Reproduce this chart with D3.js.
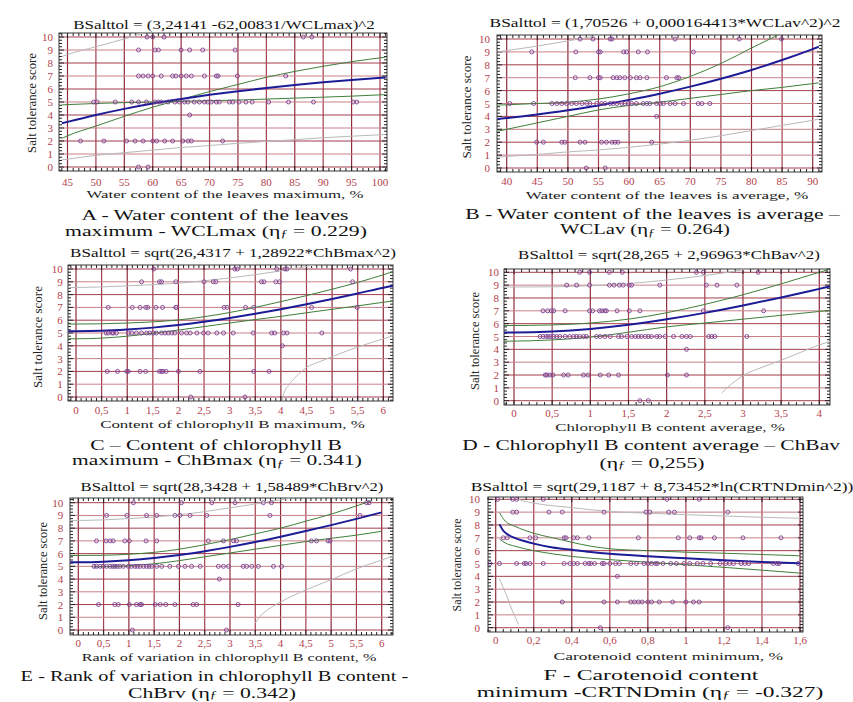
<!DOCTYPE html>
<html>
<head>
<meta charset="utf-8">
<script src="https://cdn.jsdelivr.net/npm/d3@7"></script>
<style>
body { margin: 0; background: #fff; }
</style>
</head>
<body>
<div id="chart"></div>
<script>
// ---- values ----
const yTicks = [0, 1, 2, 3, 4, 5, 6, 7, 8, 9, 10];
const ticksA = [45, 50, 55, 60, 65, 70, 75, 80, 85, 90, 95, 100];
const ticksB = [40, 45, 50, 55, 60, 65, 70, 75, 80, 85, 90];
const ticksC = [0, 0.5, 1, 1.5, 2, 2.5, 3, 3.5, 4, 4.5, 5, 5.5, 6];
const ticksD = [0, 0.5, 1, 1.5, 2, 2.5, 3, 3.5, 4];
const ticksE = [0, 0.5, 1, 1.5, 2, 2.5, 3, 3.5, 4, 4.5, 5, 5.5, 6];
const ticksF = [0, 0.2, 0.4, 0.6, 0.8, 1, 1.2, 1.4, 1.6];

const formulas = [
    'BSalttol = (3,24141 -62,00831/WCLmax)^2',
    'BSalttol = (1,70526 + 0,000164413*WCLav^2)^2',
    'BSalttol = sqrt(26,4317 + 1,28922*ChBmax^2)',
    'BSalttol = sqrt(28,265 + 2,96963*ChBav^2)',
    'BSalttol = sqrt(28,3428 + 1,58489*ChBrv^2)',
    'BSalttol = sqrt(29,1187 + 8,73452*ln(CRTNDmin^2))'
];
const xTitles = [
    'Water content of the leaves maximum, %',
    'Water content of the leaves is average, %',
    'Content of chlorophyll B maximum, %',
    'Chlorophyll B content average, %',
    'Rank of variation in chlorophyll B content, %',
    'Carotenoid content minimum, %'
];
const yTitle = 'Salt tolerance score';
// second line: [before, subscript, after]
const captions = [
    ['A - Water content of the leaves', ['maximum - WCLmax (η', 'ƒ', ' = 0.229)']],
    ['B - Water content of the leaves is average –', ['WCLav (η', 'ƒ', ' = 0.264)']],
    ['C – Content of chlorophyll B', ['maximum - ChBmax (η', 'ƒ', ' = 0.341)']],
    ['D - Chlorophyll B content average – ChBav', ['(η', 'ƒ', ' = 0,255)']],
    ['E - Rank of variation in chlorophyll B content -', ['ChBrv (η', 'ƒ', ' = 0.342)']],
    ['F - Carotenoid content', ['minimum -CRTNDmin (η', 'ƒ', ' = -0.327)']]
];

// points: [score, [x values]]
const ptsA = [
    [10, [59, 60, 62, 86.5, 88]],
    [9, [57.5, 60.4, 61, 65, 66.5, 68.8, 74.5]],
    [7, [57.5, 58.3, 59.2, 60, 61.5, 63.5, 64.1, 65, 65.9, 66.8, 69.1, 71.2, 71.5, 74.9, 83.4]],
    [5, [49.6, 50.2, 53.4, 56.3, 57.5, 58.9, 60.4, 61, 61.5, 62.7, 63.9, 64.7, 65.6, 66.2, 67.3, 68.2, 69.1, 69.7, 70.3, 71.2, 71.7, 73.5, 74.1, 75.2, 76.4, 77.5, 80.4, 83.9, 88.3, 95.3, 95.9]],
    [4, [66.5]],
    [2, [47.3, 51.4, 55.4, 56.9, 58.3, 60, 60.7, 62.1, 63.5, 65.3, 66.2, 66.8, 72.3]],
    [0, [57.5, 59.2]]
];
const ptsB = [
    [10, [52, 54.1, 56.9, 57.2, 67.5, 78, 84.9]],
    [9, [44.1, 51.3, 55, 55.3, 59.1, 59.6, 61.5, 63, 70.5]],
    [7, [51.2, 53.6, 55, 55.3, 57.4, 58, 58.5, 59.3, 60.2, 61.2, 61.8, 62.9, 66.1, 67.8, 68.1]],
    [5, [40.5, 44.4, 47.4, 48.2, 49, 49.8, 50.6, 51.4, 52.3, 53.1, 53.6, 54.7, 55.5, 56.1, 56.9, 57.4, 58, 58.8, 59.3, 59.9, 60.4, 61.2, 62.3, 62.9, 63.4, 64.5, 65.1, 65.6, 66.7, 67.5, 68.9, 71.3, 71.9, 73.2]],
    [4, [64.5]],
    [2, [44.9, 46, 49, 49.5, 52, 52.8, 55.5, 56.3, 57.2, 57.7, 58.2, 63.7]],
    [0, [53, 56.1]]
];
const ptsC = [
    [10, [1.52, 3.1, 3.15, 3.92, 4.08, 4.12, 5.36]],
    [9, [1.28, 1.63, 1.67, 1.95, 2.5, 2.68, 2.73, 3.62, 3.67, 3.9, 3.97, 5.4]],
    [7, [0.63, 1.1, 1.25, 1.36, 1.4, 1.56, 1.69, 1.95, 1.96, 2.89, 2.95, 3.31, 3.47, 4.6, 5.49]],
    [5, [0.59, 0.63, 0.7, 0.73, 0.79, 1.02, 1.09, 1.18, 1.28, 1.38, 1.44, 1.51, 1.57, 1.67, 1.74, 1.8, 1.87, 1.93, 2.06, 2.16, 2.23, 2.36, 2.49, 2.58, 2.75, 2.88, 3.07, 3.46, 3.82, 3.88, 4.05, 4.12, 4.8]],
    [4, [4.03]],
    [2, [0.61, 0.81, 0.99, 1.02, 1.25, 1.36, 1.63, 1.67, 1.7, 1.76, 2.0, 2.42, 3.47, 3.77]],
    [0, [2.24, 3.3]]
];
const ptsD = [
    [10, [0.86, 0.99, 1.25, 1.42, 2.39, 2.48, 3.2]],
    [9, [0.69, 0.82, 0.99, 1.25, 1.31, 1.38, 1.43, 1.51, 1.54, 1.91, 2.52, 2.66, 2.92]],
    [7, [0.38, 0.44, 0.49, 0.52, 0.67, 0.99, 1.03, 1.12, 1.15, 1.19, 1.21, 1.35, 1.51, 1.65, 2.48, 3.27]],
    [5, [0.34, 0.38, 0.42, 0.45, 0.48, 0.52, 0.56, 0.6, 0.67, 0.73, 0.78, 0.82, 0.86, 0.91, 0.95, 1.08, 1.13, 1.19, 1.26, 1.37, 1.41, 1.48, 1.54, 1.59, 1.63, 1.67, 1.72, 1.76, 1.8, 1.87, 1.91, 1.98, 2.09, 2.2, 2.26, 2.31, 2.55, 2.59, 2.63, 3.05]],
    [4, [2.26]],
    [2, [0.41, 0.43, 0.47, 0.51, 0.65, 0.71, 0.91, 0.97, 1.13, 1.24, 1.37, 2.01, 2.26]],
    [0, [1.65, 1.76]]
];
const ptsE = [
    [10, [1.09, 2.04, 2.64, 3.1, 3.66, 3.82, 5.7, 5.75]],
    [9, [0.56, 0.96, 1.35, 1.55, 1.91, 2.01, 2.21, 2.54, 3.79, 5.57]],
    [7, [0.36, 0.55, 0.63, 0.69, 0.92, 1.01, 1.34, 1.55, 2.57, 2.87, 3.07, 3.13, 4.61, 4.71, 4.94, 4.98]],
    [5, [0.31, 0.36, 0.43, 0.49, 0.56, 0.63, 0.68, 0.72, 0.77, 0.82, 0.89, 0.99, 1.05, 1.12, 1.17, 1.22, 1.29, 1.35, 1.4, 1.45, 1.55, 1.65, 1.81, 1.98, 2.11, 2.24, 2.41, 2.77, 2.87, 2.97, 3.26, 3.33, 3.43, 3.56, 3.86, 4.02]],
    [4, [2.79]],
    [2, [0.4, 0.72, 0.79, 1.01, 1.15, 1.22, 1.25, 1.52, 1.62, 1.73, 1.91, 2.27, 2.34, 3.16]],
    [0, [1.07, 2.93]]
];
const ptsF = [
    [10, [0.01, 0.09, 0.11, 0.25, 0.9, 1.07]],
    [9, [0.09, 0.11, 0.28, 0.35, 0.57, 0.79, 0.81, 0.91, 0.94, 1.22]],
    [7, [0.04, 0.06, 0.18, 0.21, 0.36, 0.37, 0.41, 0.43, 0.49, 0.75, 0.96, 1.02, 1.07, 1.08, 1.15, 1.3, 1.5]],
    [5, [-0.03, 0.02, 0.11, 0.15, 0.16, 0.18, 0.25, 0.36, 0.39, 0.41, 0.43, 0.47, 0.49, 0.5, 0.52, 0.56, 0.57, 0.6, 0.63, 0.65, 0.71, 0.74, 0.78, 0.8, 0.82, 0.84, 0.85, 0.88, 0.92, 0.95, 0.99, 1.02, 1.06, 1.09, 1.13, 1.18, 1.21, 1.23, 1.25, 1.29, 1.31, 1.33, 1.46, 1.48, 1.49, 1.59]],
    [4, [0.64]],
    [2, [0.35, 0.57, 0.64, 0.71, 0.73, 0.75, 0.77, 0.8, 0.82, 0.86, 0.93, 1.0, 1.04, 1.07]],
    [0, [0.55, 1.22]]
];

// fitted curve (blue), confidence limits (green), prediction limits (grey)
const fitA = [[44, 3.36], [45, 3.47], [50, 4.0], [55, 4.47], [60, 4.88], [65, 5.23], [70, 5.55], [75, 5.83], [80, 6.08], [85, 6.31], [90, 6.52], [95, 6.7], [101, 6.89]];
const upA = [[44, 2.2], [45, 2.4], [50, 3.15], [55, 3.9], [60, 4.6], [65, 5.2], [70, 5.8], [75, 6.35], [80, 6.9], [85, 7.35], [90, 7.75], [95, 8.1], [101, 8.45]];
const loA = [[44, 4.78], [45, 4.8], [55, 4.95], [60, 5.0], [65, 5.05], [75, 5.15], [85, 5.3], [95, 5.45], [101, 5.57]];
const predUpA = [[44, 8.5], [45, 8.65], [50, 9.25], [55, 9.85], [57, 10.1], [58.5, 10.35]];
const predLoA = [[44, 0.55], [45, 0.6], [50, 0.9], [55, 1.1], [60, 1.3], [65, 1.5], [70, 1.65], [75, 1.82], [80, 1.97], [85, 2.1], [90, 2.25], [95, 2.37], [101, 2.5]];

const fitB = [[38.5, 3.8], [40, 3.87], [45, 4.15], [50, 4.48], [55, 4.85], [60, 5.28], [65, 5.76], [70, 6.31], [75, 6.92], [80, 7.6], [85, 8.37], [90, 9.22], [91, 9.4]];
const upB = [[38.5, 4.88], [40, 4.9], [45, 5.0], [50, 5.1], [55, 5.35], [60, 5.75], [65, 6.3], [70, 7.1], [75, 8.1], [80, 9.3], [84.5, 10.35]];
const loB = [[38.5, 2.85], [40, 3.0], [45, 3.5], [50, 4.0], [55, 4.5], [60, 4.85], [65, 5.1], [70, 5.4], [75, 5.7], [80, 6.0], [85, 6.25], [91, 6.6]];
const predUpB = [[38.5, 9.0], [40, 9.1], [45, 9.45], [50, 9.85], [53, 10.1], [55.5, 10.35]];
const predLoB = [[38.5, 0.85], [40, 0.9], [45, 1.05], [50, 1.25], [55, 1.4], [60, 1.6], [65, 1.85], [70, 2.15], [75, 2.5], [80, 2.9], [85, 3.3], [90, 3.7], [91, 3.78]];

const fitC = [[-0.15, 5.14], [0, 5.14], [0.5, 5.17], [1, 5.27], [1.5, 5.42], [2, 5.62], [2.5, 5.87], [3, 6.17], [3.5, 6.5], [4, 6.86], [4.5, 7.25], [5, 7.66], [5.5, 8.09], [6, 8.54], [6.19, 8.7]];
const upC = [[-0.15, 5.7], [0, 5.7], [0.5, 5.72], [1, 5.78], [1.5, 5.87], [2, 6.02], [2.5, 6.27], [3, 6.6], [3.5, 7.0], [4, 7.45], [4.5, 7.92], [5, 8.42], [5.5, 8.95], [6, 9.55], [6.19, 9.8]];
const loC = [[-0.15, 4.55], [0, 4.55], [0.5, 4.6], [1, 4.75], [1.5, 4.98], [2, 5.23], [2.5, 5.5], [3, 5.78], [3.5, 6.05], [4, 6.3], [4.5, 6.58], [5, 6.85], [5.5, 7.12], [6, 7.4], [6.19, 7.5]];
const predUpC = [[-0.15, 8.55], [0.5, 8.6], [1, 8.68], [1.5, 8.78], [2, 8.9], [2.5, 9.08], [3, 9.3], [3.5, 9.56], [4, 9.85], [4.3, 10.05], [4.7, 10.35]];
const predLoC = [[4.03, -0.3], [4.06, 0.3], [4.15, 0.9], [4.3, 1.6], [4.5, 2.3], [4.75, 2.75], [5, 3.15], [5.5, 3.9], [6, 4.55], [6.19, 4.78]];

const fitD = [[-0.13, 5.32], [0, 5.32], [0.5, 5.39], [1, 5.59], [1.5, 5.91], [2, 6.34], [2.5, 6.84], [3, 7.42], [3.5, 8.04], [4, 8.71], [4.14, 8.9]];
const upD = [[-0.13, 5.85], [0.5, 5.9], [1, 6.05], [1.5, 6.35], [2, 6.85], [2.5, 7.5], [3, 8.25], [3.5, 9.1], [4, 10.0], [4.14, 10.25]];
const loD = [[-0.13, 4.63], [0.5, 4.73], [1, 4.95], [1.5, 5.33], [2, 5.75], [2.5, 6.05], [3, 6.35], [3.5, 6.65], [4, 6.95], [4.14, 7.03]];
const predUpD = [[-0.13, 8.85], [0.5, 8.87], [1, 8.95], [1.5, 9.12], [2, 9.4], [2.5, 9.75], [2.8, 10.0], [3.1, 10.3]];
const predLoD = [[2.72, 0.6], [2.85, 1.3], [3, 1.95], [3.25, 2.6], [3.5, 3.15], [3.75, 3.75], [4, 4.35], [4.14, 4.6]];

const fitE = [[-0.16, 5.32], [0, 5.32], [0.5, 5.36], [1, 5.47], [1.5, 5.65], [2, 5.89], [2.5, 6.19], [3, 6.53], [3.5, 6.91], [4, 7.33], [4.5, 7.77], [5, 8.24], [5.5, 8.73], [6, 9.24]];
const upE = [[-0.16, 5.85], [0.5, 5.87], [1, 5.95], [1.5, 6.1], [2, 6.35], [2.5, 6.7], [3, 7.1], [3.5, 7.55], [4, 8.0], [4.5, 8.55], [5, 9.1], [5.5, 9.75], [5.8, 10.15]];
const loE = [[0.3, 4.95], [0.5, 4.97], [1, 5.05], [1.5, 5.2], [2, 5.45], [2.5, 5.75], [3, 6.05], [3.5, 6.35], [4, 6.65], [4.5, 6.95], [5, 7.2], [5.5, 7.45], [6, 7.75]];
const predUpE = [[-0.16, 8.6], [0.5, 8.65], [1, 8.75], [1.5, 8.88], [2, 9.05], [2.5, 9.3], [3, 9.6], [3.5, 9.9], [3.8, 10.1], [4.2, 10.35]];
const predLoE = [[3.5, 0.55], [3.6, 1.1], [3.75, 1.6], [4, 2.2], [4.5, 3.15], [5, 3.95], [5.5, 4.8], [6, 5.5], [6.23, 5.8]];

const fitF = [[0.02, 8.05], [0.04, 7.55], [0.07, 7.2], [0.1, 7.0], [0.15, 6.75], [0.2, 6.55], [0.3, 6.25], [0.4, 6.07], [0.5, 5.9], [0.6, 5.76], [0.8, 5.56], [1.0, 5.4], [1.2, 5.25], [1.4, 5.12], [1.6, 5.02]];
const upF = [[0.02, 8.95], [0.05, 8.3], [0.1, 7.9], [0.15, 7.6], [0.2, 7.35], [0.3, 7.0], [0.4, 6.65], [0.5, 6.35], [0.6, 6.15], [0.8, 6.0], [1.0, 5.88], [1.2, 5.8], [1.4, 5.7], [1.6, 5.6]];
const loF = [[0.02, 6.9], [0.05, 6.6], [0.1, 6.35], [0.2, 6.0], [0.3, 5.75], [0.4, 5.55], [0.6, 5.3], [0.8, 5.1], [1.0, 4.9], [1.2, 4.7], [1.4, 4.48], [1.6, 4.25]];
const predUpF = [[0.08, 10.3], [0.12, 10.0], [0.2, 9.7], [0.3, 9.5], [0.4, 9.35], [0.6, 9.05], [0.8, 8.92], [1.0, 8.8], [1.2, 8.7], [1.4, 8.6], [1.6, 8.52]];
const predLoF = [[0.02, 3.8], [0.04, 3.1], [0.06, 2.4], [0.08, 1.6], [0.1, 0.9], [0.12, 0.25]];

// ---- layout (pixels) ----
const layout = [
    {frame: [59, 33, 387, 171], xr: [67.5, 380], yr: [167, 37], xLab: 181.5, yLab: 53, f: [224, 25, 302], t: [225, 194.5, 277], yt: [32, 103, 100], cap: [[215, 214.5, 267], [216, 230.5, 302]]},
    {frame: [497, 35, 822, 172], xr: [506.7, 812.7], yr: [168, 39], xLab: 181, yLab: 490, f: [665, 23, 351], t: [667, 195, 283], yt: [467, 107, 103], cap: [[652.5, 213.5, 375], [645, 229.5, 170]]},
    {frame: [68, 265, 393, 401], xr: [76, 383.3], yr: [397, 269], xLab: 410, yLab: 62.7, f: [233, 253, 326], t: [232.5, 424.3, 265], yt: [38, 337, 102], cap: [[216, 444.5, 252], [217, 460.5, 290]]},
    {frame: [504, 269, 830, 405], xr: [514, 819.3], yr: [400.7, 272.3], xLab: 413, yLab: 499, f: [669, 255, 302], t: [670, 427.3, 230], yt: [475, 341, 98], cap: [[651, 445.5, 378], [652, 462, 105]]},
    {frame: [70, 498, 393, 635], xr: [78.3, 381.7], yr: [630, 502.7], xLab: 643, yLab: 63.3, f: [232, 487, 303], t: [229, 657.7, 295], yt: [43, 571, 98], cap: [[214.5, 676, 388], [212, 692, 168]]},
    {frame: [488, 497, 803, 632], xr: [495.7, 800], yr: [627.7, 499.3], xLab: 640, yLab: 480, f: [662, 487, 383], t: [668.3, 656.7, 230], yt: [457, 565, 93], cap: [[651, 675, 215], [650, 691.5, 347]]}
];

const panels = [
    {ticks: ticksA, pts: ptsA, fit: fitA, up: upA, lo: loA, pUp: predUpA, pLo: predLoA},
    {ticks: ticksB, pts: ptsB, fit: fitB, up: upB, lo: loB, pUp: predUpB, pLo: predLoB},
    {ticks: ticksC, pts: ptsC, fit: fitC, up: upC, lo: loC, pUp: predUpC, pLo: predLoC},
    {ticks: ticksD, pts: ptsD, fit: fitD, up: upD, lo: loD, pUp: predUpD, pLo: predLoD},
    {ticks: ticksE, pts: ptsE, fit: fitE, up: upE, lo: loE, pUp: predUpE, pLo: predLoE},
    {ticks: ticksF, pts: ptsF, fit: fitF, up: upF, lo: loF, pUp: predUpF, pLo: predLoF}
];

const colors = {
    grid: '#a33f4e',
    gridLight: '#c98089',
    frame: '#3a3a3a',
    tick: '#b3414c',
    point: '#7a3f93',
    fit: '#1c1c96',
    conf: '#3f7f3a',
    pred: '#b9b9b9'
};
const serif = '"Liberation Serif", "DejaVu Serif", "Times New Roman", serif';

let svg = d3.select('#chart')
    .append('svg')
        .attr('width', 853)
        .attr('height', 702)
        .style('font-family', serif)
        .style('background', '#fff');

panels.forEach((p, i) => drawPanel(p, layout[i], i));

// scale a centred text horizontally so it spans the measured width
function stretch(t, cx, w){
    let len = t.node().getComputedTextLength();
    let k = w / len;
    t.attr('transform', `translate(${cx},0) scale(${k},1) translate(${-cx},0)`);
}

function fmt(v){
    return String(v).replace('.', ',');
}

function label(g, x, y, size, fill){
    return g.append('text')
        .attr('x', x).attr('y', y)
        .attr('text-anchor', 'middle')
        .attr('dominant-baseline', 'central')
        .style('font-size', size + 'px')
        .style('fill', fill);
}

function drawPanel(p, L, i){
    let [l, t, r, b] = L.frame;
    let ticks = p.ticks;
    let x = d3.scaleLinear().domain([ticks[0], ticks[ticks.length - 1]]).range(L.xr);
    let y = d3.scaleLinear().domain([0, 10]).range(L.yr);
    let g = svg.append('g');

    g.append('clipPath')
        .attr('id', 'clip' + i)
        .append('rect')
            .attr('x', l).attr('y', t)
            .attr('width', r - l).attr('height', b - t);

    //Grid
    g.selectAll('.vgrid')
        .data(ticks)
        .enter()
        .append('line')
            .attr('x1', d => x(d)).attr('x2', d => x(d))
            .attr('y1', t).attr('y2', b)
            .style('stroke', (d, j) => j % 2 ? colors.grid : '#8e2c3b')
            .style('stroke-width', 1.2);

    g.selectAll('.hgrid')
        .data(yTicks)
        .enter()
        .append('line')
            .attr('x1', l).attr('x2', r)
            .attr('y1', d => y(d)).attr('y2', d => y(d))
            .style('stroke', (d, j) => j % 2 ? colors.gridLight : colors.grid)
            .style('stroke-width', 1);

    //Frame and inner ticks
    g.append('rect')
        .attr('x', l).attr('y', t)
        .attr('width', r - l).attr('height', b - t)
        .style('fill', 'none')
        .style('stroke', colors.frame)
        .style('stroke-width', 1);

    let ySub = d3.range(-1, 42).map(k => k / 4).filter(v => y(v) > t && y(v) < b);
    let step = (ticks[1] - ticks[0]) / 5;
    let x0 = x.invert(l), x1 = x.invert(r);
    let xSub = d3.range(Math.ceil(x0 / step), Math.floor(x1 / step) + 1).map(k => k * step);
    let isMajorY = v => Math.abs(v - Math.round(v)) < 1e-6;
    let isMajorX = v => ticks.some(tk => Math.abs(tk - v) < step / 10);

    let tickPath = '';
    ySub.forEach(v => {
        let len = isMajorY(v) ? 5 : 3;
        tickPath += `M${l},${y(v)}h${len}M${r},${y(v)}h${-len}`;
    });
    xSub.forEach(v => {
        let len = isMajorX(v) ? 5 : 3;
        tickPath += `M${x(v)},${b}v${-len}M${x(v)},${t}v${len}`;
    });
    g.append('path')
        .attr('d', tickPath)
        .style('stroke', '#222')
        .style('stroke-width', 1);

    //Curves
    let line = d3.line()
        .x(d => x(d[0]))
        .y(d => y(d[1]))
        .curve(d3.curveMonotoneX);
    let curves = g.append('g').attr('clip-path', `url(#clip${i})`);
    [[p.pUp, colors.pred, 1], [p.pLo, colors.pred, 1], [p.up, colors.conf, 1], [p.lo, colors.conf, 1], [p.fit, colors.fit, 2]]
        .forEach(c => {
            curves.append('path')
                .datum(c[0])
                .attr('d', line)
                .style('fill', 'none')
                .style('stroke', c[1])
                .style('stroke-width', c[2]);
        });

    //Points
    let pts = [];
    p.pts.forEach(row => row[1].forEach(v => pts.push([v, row[0]])));
    g.selectAll('.pt')
        .data(pts)
        .enter()
        .append('circle')
            .attr('cx', d => x(d[0]))
            .attr('cy', d => y(d[1]))
            .attr('r', 2)
            .style('fill', 'none')
            .style('stroke', colors.point)
            .style('stroke-width', 0.9);

    //Tick labels
    ticks.forEach(d => label(g, x(d), L.xLab, 11, colors.tick).text(fmt(d)));
    yTicks.forEach(d => label(g, L.yLab, y(d), 11, colors.tick).attr('text-anchor', 'end').text(d));

    //Titles
    let f = label(g, L.f[0], L.f[1], 12, '#111').text(formulas[i]);
    stretch(f, L.f[0], L.f[2]);

    let xt = label(g, L.t[0], L.t[1], 11, '#222').text(xTitles[i]);
    stretch(xt, L.t[0], L.t[2]);

    let yg = g.append('g')
        .attr('transform', `translate(${L.yt[0]},${L.yt[1]}) rotate(-90)`);
    let yt = label(yg, 0, 0, 12, '#222').text(yTitle);
    stretch(yt, 0, L.yt[2]);

    //Caption
    let c1 = label(g, L.cap[0][0], L.cap[0][1], 15, '#111').text(captions[i][0]);
    stretch(c1, L.cap[0][0], L.cap[0][2]);

    let parts = captions[i][1];
    let c2 = label(g, L.cap[1][0], L.cap[1][1], 15, '#111');
    c2.append('tspan').text(parts[0]);
    c2.append('tspan').attr('dy', 3).style('font-size', '10px').text(parts[1]);
    c2.append('tspan').attr('dy', -3).text(parts[2]);
    stretch(c2, L.cap[1][0], L.cap[1][2]);
}
</script>
</body>
</html>
